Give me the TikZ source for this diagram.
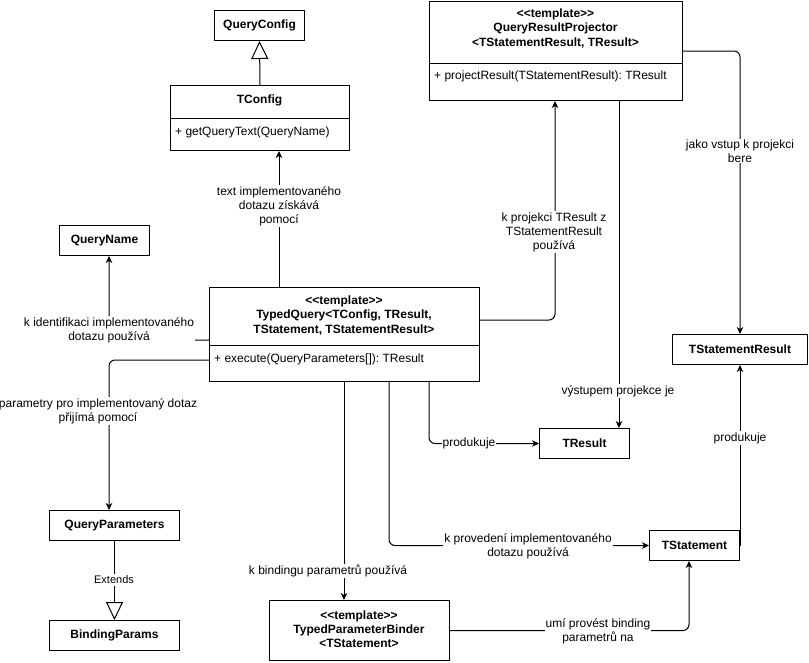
\documentclass[tikz,border=0pt]{standalone}
\usepackage{fontspec}
\setmainfont{Liberation Sans}[Ligatures=TeXOff]
\usetikzlibrary{arrows.meta,calc}
\newcommand\umltitle{\fontsize{12}{14.2}\selectfont\bfseries}
\newcommand\umltext{\fontsize{12}{14}\selectfont}
\newcommand\extfont{\fontsize{11}{13}\selectfont}
\frenchspacing

\begin{document}
\begin{tikzpicture}[x=1pt,y=-1pt,
  umlbox/.style={draw, line width=1pt, fill=white, inner sep=0pt, anchor=north west, font=\umltitle},
  ttl/.style={inner sep=0pt, align=center, font=\umltitle},
  attr/.style={inner sep=0pt, anchor=west, font=\umltext},
  lbl/.style={fill=white, inner sep=1pt, align=center, font=\umltext},
  conn/.style={line width=1pt, rounded corners=6pt},
  arr/.style={conn, -{Stealth[length=7pt,width=6.5pt,inset=2pt]}},
  inh/.style={line width=1pt, -{Triangle[open,length=18pt,width=17pt]}},
  divider/.style={line width=1pt}
]
\useasboundingbox (0,0) rectangle (809,662);

% ---- classes ----
\node[umlbox, minimum width=90, minimum height=30] (qc) at (214,10) {QueryConfig};

\node[umlbox, minimum width=179, minimum height=65] (tconfig) at (170,85) {};
\draw[divider] ($(tconfig.north west)+(0,33)$) -- ($(tconfig.north east)+(0,33)$);
\node[ttl] (tconfig-title) at (259.5,100) {TConfig};
\node[attr] (tconfig-attr) at (175,132) {+ getQueryText(QueryName)};

\node[umlbox, minimum width=90, minimum height=30] (qn) at (59,225) {QueryName};

\node[umlbox, minimum width=270, minimum height=94] (tq) at (209,287) {};
\draw[divider] ($(tq.north west)+(0,58)$) -- ($(tq.north east)+(0,58)$);
\node[ttl] (tq-title) at (344,315.5) {<<template>>\\TypedQuery<TConfig, TResult,\\TStatement, TStatementResult>};
\node[attr] (tq-attr) at (214,359) {+ execute(QueryParameters[]): TResult};

\node[umlbox, minimum width=253, minimum height=99] (qrp) at (429,1) {};
\draw[divider] ($(qrp.north west)+(0,62)$) -- ($(qrp.north east)+(0,62)$);
\node[ttl] (qrp-title) at (555.5,28.5) {<<template>>\\QueryResultProjector\\<TStatementResult, TResult>};
\node[attr] (qrp-attr) at (434,76) {+ projectResult(TStatementResult): TResult};

\node[umlbox, minimum width=135, minimum height=30] (tsr) at (672,334) {TStatementResult};
\node[umlbox, minimum width=90, minimum height=30] (tres) at (539,428) {TResult};
\node[umlbox, minimum width=90, minimum height=30] (tst) at (649,530) {TStatement};
\node[umlbox, minimum width=130, minimum height=30] (qp) at (49,510) {QueryParameters};
\node[umlbox, minimum width=130, minimum height=30] (bp) at (49,620) {BindingParams};
\node[umlbox, minimum width=180, minimum height=60] (tpb) at (269,600) {};
\node[ttl] (tpb-title) at (359,629.5) {<<template>>\\TypedParameterBinder\\<TStatement>};

% ---- generalisations ----
\draw[inh] (tconfig.north) -- (qc.south);
\draw[inh] (qp.south) -- (bp.north);

% ---- associations ----
\draw[arr] ($(tq.north west)+(70,0)$) -- ($(tconfig.south west)+(109,0)$);
\draw[arr] ($(tq.north west)+(0,53)$) -| ($(qn.south west)+(50,0)$);
\draw[arr] ($(tq.north west)+(0,73)$) -| ($(qp.north west)+(60,0)$);
\draw[arr] ($(tq.south west)+(135,0)$) -- ($(tpb.north west)+(75,0)$);
\draw[arr] ($(tq.south west)+(180,0)$) |- (tst.west);
\draw[arr] (tpb.east) -| ($(tst.south west)+(40,0)$);
\draw[arr] (tst.east) -- (tst.east |- tsr.south);
\draw[arr] ($(qrp.north east)+(0,50)$) -| (tsr.north);
\draw[arr] ($(tq.north east)+(0,33)$) -| ($(qrp.south west)+(126,0)$);
\draw[arr] ($(qrp.south west)+(190,0)$) -- ($(tres.north west)+(80,0)$);
\draw[arr] ($(tq.south west)+(220,0)$) |- (tres.west);

% ---- labels ----
\node[lbl] (l-text) at (279,206) {text implementovaného\\dotazu získává\\pomocí};
\node[lbl] (l-ident) at (109,330) {k identifikaci implementovaného\\dotazu používá};
\node[lbl] (l-params) at (98,411) {parametry pro implementovaný dotaz\\přijímá pomocí};
\node[lbl, font=\extfont, inner sep=2pt] (l-ext) at (114,580) {Extends};
\node[lbl] (l-bind) at (328,571) {k bindingu parametrů používá};
\node[lbl] (l-exec) at (528,546) {k provedení implementovaného\\dotazu používá};
\node[lbl] (l-umi) at (598,631) {umí provést binding\\parametrů na};
\node[lbl] (l-prod1) at (740,438) {produkuje};
\node[lbl] (l-vstup) at (740,151) {jako vstup k projekci\\bere};
\node[lbl] (l-proj) at (554,232) {k projekci TResult z\\TStatementResult\\používá};
\node[lbl] (l-out) at (618,391) {výstupem projekce je};
\node[lbl] (l-prod2) at (469,443) {produkuje};
\end{tikzpicture}
\end{document}
